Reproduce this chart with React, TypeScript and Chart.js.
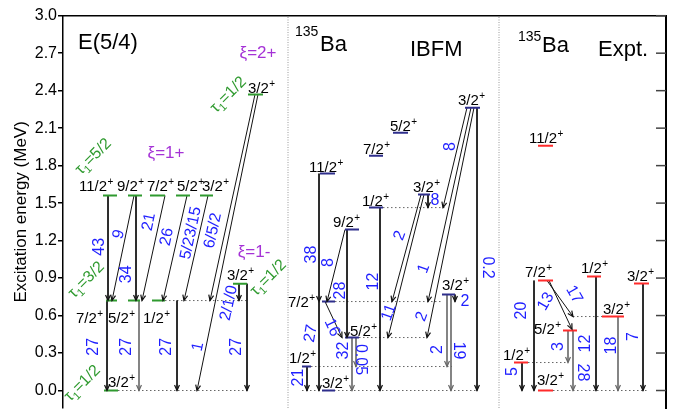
import React, { useEffect, useRef } from "react";
import { Chart, registerables } from "chart.js";

Chart.register(...registerables);

const FONT = "'Liberation Sans', Arial, Helvetica, sans-serif";

// ---- axes ----
const yTickValues = [0, 0.3, 0.6, 0.9, 1.2, 1.5, 1.8, 2.1, 2.4, 2.7, 3.0];
const yMinE = -0.14;
const yMaxE = 3.0;
const xMinU = 0;
const xMaxU = 603;
const panelDividers = [225, 436];

// ---- E(5/4) panel ----  levels: [energy, x0, x1]
const e54Levels = [
  [0, 41, 55], [0.72, 43, 54], [0.72, 65, 77], [0.72, 89, 102], [0.855, 170, 184],
  [1.56, 40, 54], [1.56, 65, 79], [1.56, 87, 102], [1.56, 113, 127], [1.56, 137, 150],
  [2.37, 185, 200],
];
const e54Dotted = [[0, 55, 184], [0.72, 102, 184]];
// spins: [label, xLeft, baselineEnergy]
const e54Spins: [string, number, number][] = [
  ["3/2", 45, 0.032], ["7/2", 13, 0.544], ["5/2", 45, 0.544], ["1/2", 80, 0.544],
  ["3/2", 164, 0.888], ["11/2", 16, 1.595], ["9/2", 54, 1.595], ["7/2", 84, 1.595],
  ["5/2", 114, 1.595], ["3/2", 139, 1.595], ["3/2", 185, 2.384],
];
// transitions: [x1, E1, x2, E2]
const e54Arrows = [
  [45, 1.56, 45, 0.72], [71, 1.56, 49, 0.72], [73, 1.56, 73, 0.72], [102, 1.56, 79, 0.72],
  [124, 1.56, 100, 0.72], [145, 1.56, 121, 0.72], [192, 2.37, 147, 0.72], [195, 2.37, 134, 0],
  [176, 0.855, 176, 0.72], [184, 0.855, 184, 0], [44, 0.72, 44, 0], [114, 0.72, 114, 0],
];
const e54GrayArrows = [[76, 0.72, 76, 0]];
// intensities: [text, x, E, angle]
const e54Intens: [string, number, number, number][] = [
  ["43", 37, 1.15, -90], ["9", 56, 1.25, -75], ["34", 64, 0.93, -90], ["21", 86, 1.35, -78],
  ["26", 104, 1.23, -78], ["5/23/15", 128, 1.26, -78], ["6/5/2", 150, 1.28, -78],
  ["2/1/0", 166, 0.7, -78], ["1", 135, 0.35, -78], ["27", 31, 0.35, -90], ["27", 64, 0.35, -90],
  ["27", 104, 0.35, -90], ["27", 174, 0.35, -90],
];
const e54Xi: [string, number, number][] = [["ξ=2+", 195, 2.696], ["ξ=1+", 103, 1.896], ["ξ=1-", 191, 1.104]];
const e54Tau: [string, number, number][] = [
  ["5/2", 30, 1.875], ["3/2", 23, 0.888], ["1/2", 19, 0.06], ["1/2", 165, 2.37], ["1/2", 205, 0.905],
];

// ---- IBFM panel ----
const ibfmLevels = [
  [0, 259, 272], [0.192, 239, 248], [0.712, 259, 272], [0.424, 282, 296], [1.288, 282, 296],
  [1.464, 306, 320], [1.736, 257, 272], [1.88, 306, 320], [2.064, 330, 345], [1.568, 355, 367],
  [2.264, 402, 417], [0.768, 379, 392],
];
const ibfmDotted = [[0, 239, 414], [0.192, 248, 389], [0.424, 296, 364], [0.712, 272, 380], [1.464, 320, 384]];
const ibfmSpins: [string, number, number][] = [
  ["3/2", 259, 0.024], ["1/2", 226, 0.224], ["7/2", 225, 0.672], ["5/2", 287, 0.44],
  ["9/2", 270, 1.312], ["1/2", 299, 1.48], ["11/2", 246, 1.752], ["7/2", 300, 1.896],
  ["5/2", 327, 2.08], ["3/2", 350, 1.592], ["3/2", 395, 2.288], ["3/2", 379, 0.808],
];
const ibfmArrows = [
  [256, 1.736, 256, 0.712], [256, 0.712, 256, 0], [282, 1.288, 264, 0.712], [284, 1.288, 284, 0.424],
  [262, 0.712, 279, 0.424], [317, 1.464, 317, 0], [358, 1.568, 329, 0.712], [361, 1.568, 325, 0.424],
  [365, 1.568, 365, 1.464], [404, 2.264, 380, 1.464], [408, 2.264, 365, 0.712], [411, 2.264, 364, 0.424],
  [414, 2.264, 414, 0], [392, 0.768, 392, 0.712], [244, 0.192, 244, 0],
];
const ibfmGrayArrows = [[289, 0.424, 289, 0], [293, 0.424, 293, 0.192], [384, 0.768, 384, 0.192], [388, 0.768, 388, 0]];
const ibfmIntens: [string, number, number, number][] = [
  ["38", 249, 1.088, -90], ["27", 248, 0.456, -80], ["8", 266, 1.024, -90], ["28", 278, 0.8, -90],
  ["16", 269, 0.504, 65], ["32", 281, 0.32, -90], ["0.05", 297, 0.248, 90], ["12", 311, 0.872, -90],
  ["2", 337, 1.24, -70], ["11", 326, 0.624, -70], ["8", 372, 1.52, 0], ["8", 388, 1.952, -90],
  ["1", 361, 0.976, -70], ["2", 359, 0.592, -70], ["0.2", 424, 0.984, 90], ["2", 375, 0.328, -90],
  ["19", 395, 0.32, 90], ["2", 402, 0.712, 0], ["21", 236, 0.104, -90],
];

// ---- Expt panel ----
const exptLevels = [
  [0, 475, 490], [0.224, 451, 465], [0.48, 500, 514], [0.592, 539, 561], [0.88, 475, 490],
  [0.912, 524, 538], [0.856, 571, 586], [1.96, 475, 490],
];
const exptDotted = [[0, 490, 584], [0.224, 465, 505], [0.592, 510, 539]];
const exptSpins: [string, number, number][] = [
  ["3/2", 474, 0.048], ["1/2", 440, 0.248], ["5/2", 471, 0.456], ["3/2", 540, 0.616],
  ["7/2", 462, 0.912], ["1/2", 518, 0.944], ["3/2", 564, 0.88], ["11/2", 466, 1.984],
];
const exptArrows = [
  [459, 0.224, 459, 0], [471, 0.88, 471, 0], [484, 0.88, 510, 0.592], [486, 0.88, 509, 0.49],
  [533, 0.912, 533, 0], [580, 0.856, 580, 0],
];
const exptGrayArrows = [[505, 0.48, 505, 0.224], [510, 0.48, 510, 0], [555, 0.592, 555, 0]];
const exptIntens: [string, number, number, number][] = [
  ["5", 450, 0.152, -90], ["20", 459, 0.64, -90], ["13", 483, 0.712, -60], ["17", 511, 0.768, 60],
  ["3", 496, 0.352, -90], ["28", 519, 0.144, 90], ["12", 523, 0.376, -90], ["18", 549, 0.36, -90],
  ["7", 571, 0.432, -90],
];

// ---- titles: [text, xLeft, centerEnergy, size] ----
const panelTitles: [string, number, number, number][] = [
  ["E(5/4)", 15, 2.784, 22],
  ["135", 232, 2.868, 14], ["Ba", 257, 2.768, 22], ["IBFM", 347, 2.724, 22],
  ["135", 455, 2.832, 14], ["Ba", 479, 2.756, 22], ["Expt.", 535, 2.728, 22],
];

const GREEN = "#2f9a2f";
const NAVY = "#2e2e8c";
const RED = "#ff2b2b";
const BLUE = "#1f1fff";
const PURPLE = "#a532d6";

function seg(x1: number, y1: number, x2: number, y2: number) {
  return [{ x: x1, y: y1 }, { x: x2, y: y2 }];
}

function levelSets(arr: number[][], color: string) {
  return arr.map(([e, x0, x1]) => ({
    data: seg(x0, e, x1, e), borderColor: color, borderWidth: 2, showLine: true, pointRadius: 0,
  }));
}
function dottedSets(arr: number[][]) {
  return arr.map(([e, x0, x1]) => ({
    data: seg(x0, e, x1, e), borderColor: "#666", borderWidth: 1, borderDash: [1.5, 2.5],
    showLine: true, pointRadius: 0,
  }));
}
function arrowSets(arr: number[][], color: string, width: number) {
  return arr.map(([x1, e1, x2, e2]) => ({
    data: seg(x1, e1, x2, e2), borderColor: color, borderWidth: width, showLine: true,
    pointRadius: 0, arrow: true,
  }));
}

const datasets: any[] = [
  ...levelSets(e54Levels, GREEN),
  ...levelSets(ibfmLevels, NAVY),
  ...levelSets(exptLevels, RED),
  ...arrowSets(e54Arrows, "#111", 1),
  ...arrowSets(ibfmArrows, "#111", 1),
  ...arrowSets(exptArrows, "#111", 1),
  ...arrowSets(e54GrayArrows, "#666", 1.6),
  ...arrowSets(ibfmGrayArrows, "#666", 1.6),
  ...arrowSets(exptGrayArrows, "#666", 1.6),
  ...dottedSets(e54Dotted),
  ...dottedSets(ibfmDotted),
  ...dottedSets(exptDotted),
  ...panelDividers.map((x) => ({
    data: seg(x, yMinE, x, yMaxE), borderColor: "#999", borderWidth: 1, borderDash: [1, 1.5],
    showLine: true, pointRadius: 0,
  })),
];

const framePlugin = {
  id: "frame",
  afterDraw(chart: any) {
    const { ctx, chartArea: a } = chart;
    const ys = chart.scales.y;
    ctx.save();
    ctx.strokeStyle = "#000";
    ctx.lineWidth = 1.5;
    ctx.beginPath();
    ctx.moveTo(a.left, a.top);
    ctx.lineTo(a.right, a.top);
    ctx.stroke();
    ctx.lineWidth = 2;
    ctx.beginPath();
    ctx.moveTo(a.right, a.top - 0.75);
    ctx.lineTo(a.right, chart.height);
    ctx.stroke();
    ctx.strokeStyle = "#444";
    ctx.lineWidth = 1.5;
    for (const v of yTickValues) {
      const y = ys.getPixelForValue(v);
      ctx.beginPath();
      ctx.moveTo(a.right - 10, y);
      ctx.lineTo(a.right, y);
      ctx.stroke();
    }
    ctx.restore();
  },
};

const annotPlugin = {
  id: "annot",
  afterDatasetsDraw(chart: any) {
    const { ctx } = chart;
    const xs = chart.scales.x;
    const ys = chart.scales.y;
    const P = (x: number, e: number) => [xs.getPixelForValue(x), ys.getPixelForValue(e)];

    // arrowheads
    chart.data.datasets.forEach((ds: any, i: number) => {
      if (!ds.arrow) return;
      const meta = chart.getDatasetMeta(i);
      const p0 = meta.data[0];
      const p1 = meta.data[1];
      const ang = Math.atan2(p1.y - p0.y, p1.x - p0.x);
      const L = 6;
      const h = 0.42;
      ctx.save();
      ctx.strokeStyle = ds.borderColor;
      ctx.lineWidth = 1.2;
      ctx.beginPath();
      ctx.moveTo(p1.x - L * Math.cos(ang - h), p1.y - L * Math.sin(ang - h));
      ctx.lineTo(p1.x, p1.y);
      ctx.lineTo(p1.x - L * Math.cos(ang + h), p1.y - L * Math.sin(ang + h));
      ctx.stroke();
      ctx.restore();
    });

    ctx.save();
    // spins
    const spin = ([t, x, e]: [string, number, number]) => {
      const [X, Y] = P(x, e);
      ctx.font = `15px ${FONT}`;
      ctx.textAlign = "left";
      ctx.textBaseline = "alphabetic";
      ctx.fillStyle = "#000";
      ctx.fillText(t, X, Y);
      const w = ctx.measureText(t).width;
      ctx.font = `10px ${FONT}`;
      ctx.fillText("+", X + w + 0.5, Y - 6);
    };
    [...e54Spins, ...ibfmSpins, ...exptSpins].forEach(spin);

    const rot = (t: string, x: number, e: number, angle: number, color: string, size: number) => {
      const [X, Y] = P(x, e);
      ctx.save();
      ctx.translate(X, Y);
      ctx.rotate((angle * Math.PI) / 180);
      ctx.font = `${size}px ${FONT}`;
      ctx.fillStyle = color;
      ctx.textAlign = "center";
      ctx.textBaseline = "middle";
      ctx.fillText(t, 0, 0);
      ctx.restore();
    };
    [...e54Intens, ...ibfmIntens, ...exptIntens].forEach(([t, x, e, a]) => rot(t, x, e, a, BLUE, 16));
    e54Xi.forEach(([t, x, e]) => rot(t, x, e, 0, PURPLE, 17));

    e54Tau.forEach(([v, x, e]) => {
      const [X, Y] = P(x, e);
      ctx.save();
      ctx.translate(X, Y);
      ctx.rotate(-Math.PI / 4);
      ctx.fillStyle = GREEN;
      ctx.textAlign = "left";
      ctx.textBaseline = "alphabetic";
      const big = `16px ${FONT}`;
      const small = `11px ${FONT}`;
      ctx.font = big;
      const w1 = ctx.measureText("τ").width;
      const w3 = ctx.measureText("=" + v).width;
      ctx.font = small;
      const w2 = ctx.measureText("1").width;
      const x0 = -(w1 + w2 + w3) / 2;
      ctx.font = big;
      ctx.fillText("τ", x0, 5);
      ctx.font = small;
      ctx.fillText("1", x0 + w1, 9);
      ctx.font = big;
      ctx.fillText("=" + v, x0 + w1 + w2, 5);
      ctx.restore();
    });

    panelTitles.forEach(([t, x, e, s]) => {
      const [X, Y] = P(x, e);
      ctx.font = `${s}px ${FONT}`;
      ctx.fillStyle = "#000";
      ctx.textAlign = "left";
      ctx.textBaseline = "middle";
      ctx.fillText(t, X, Y);
    });
    ctx.restore();
  },
};

export default function App() {
  const ref = useRef<HTMLCanvasElement>(null);
  useEffect(() => {
    const chart = new Chart(ref.current as HTMLCanvasElement, {
      type: "scatter",
      data: { datasets },
      options: {
        animation: false,
        responsive: false,
        devicePixelRatio: 1,
        layout: { padding: { left: 0, right: 7, top: 15.7, bottom: 1 } },
        plugins: { legend: { display: false }, tooltip: { enabled: false } },
        scales: {
          x: { type: "linear", min: xMinU, max: xMaxU, display: false },
          y: {
            type: "linear",
            min: yMinE,
            max: yMaxE,
            afterBuildTicks: (s: any) => {
              s.ticks = yTickValues.map((v) => ({ value: v }));
            },
            afterFit: (s: any) => {
              s.width = 63;
              s.paddingTop = 0;
              s.paddingBottom = 0;
            },
            ticks: {
              font: { size: 16, family: FONT },
              color: "#000",
              padding: 1,
              callback: (v: any) => Number(v).toFixed(1),
            },
            grid: { drawOnChartArea: false, tickLength: 5, color: "#000", lineWidth: 1.5 },
            border: { display: true, color: "#000", width: 1.5 },
            title: {
              display: true,
              text: "Excitation energy (MeV)",
              font: { size: 17, family: FONT },
              color: "#000",
              padding: { top: 11, bottom: 0 },
            },
          },
        },
      } as any,
      plugins: [framePlugin, annotPlugin],
    });
    return () => chart.destroy();
  }, []);
  return (
    <div style={{ position: "absolute", left: 0, top: 0, width: 673, height: 409, background: "#fff" }}>
      <canvas ref={ref} width={673} height={409} style={{ display: "block" }} />
    </div>
  );
}
